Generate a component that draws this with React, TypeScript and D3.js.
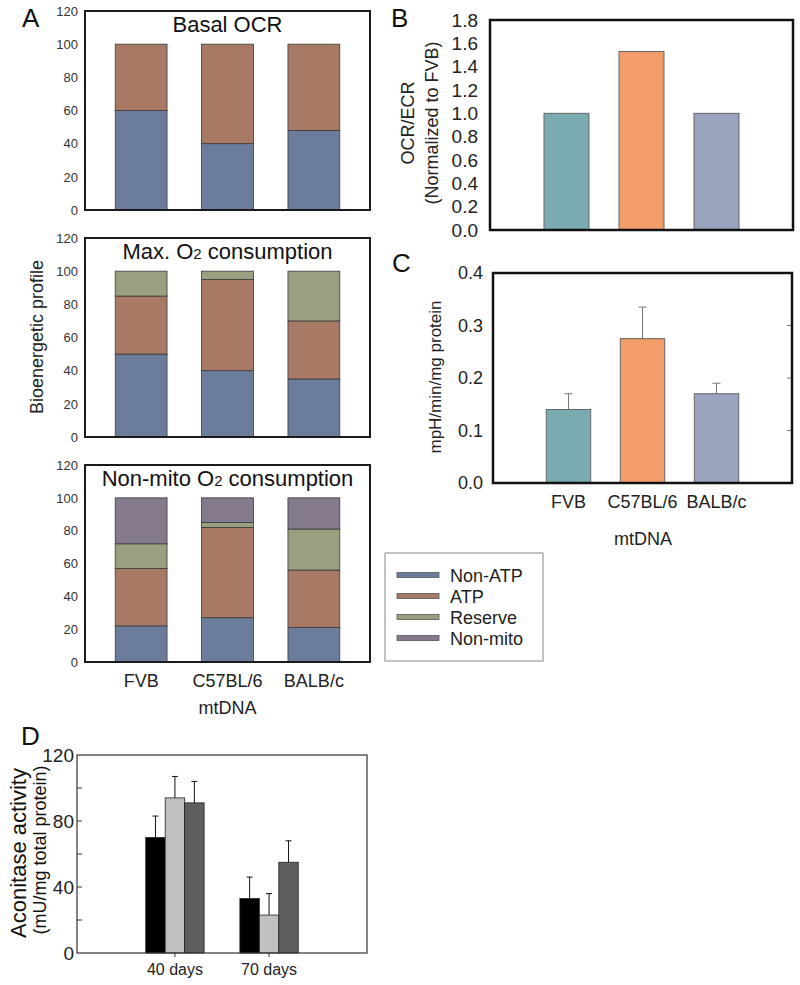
import React, { useEffect, useRef } from "react";
import * as d3 from "d3";

const strains = ["FVB", "C57BL/6", "BALB/c"];
const profileKeys = ["Non-ATP", "ATP", "Reserve", "Non-mito"];
const profileColors = ["#6b7d9a", "#a87a66", "#9aa07f", "#857a8d"];

// panel A, % of profile per strain
const basalNonATP = [60, 40, 48];
const basalATP = [40, 60, 52];
const maxNonATP = [50, 40, 35];
const maxATP = [35, 55, 35];
const maxReserve = [15, 5, 30];
const nmNonATP = [22, 27, 21];
const nmATP = [35, 55, 35];
const nmReserve = [15, 3, 25];
const nmNonMito = [28, 15, 19];
const profileTicks = [0, 20, 40, 60, 80, 100, 120];

// panel B
const ocrEcr = [1.0, 1.53, 1.0];
const ocrTicks = [0, 0.2, 0.4, 0.6, 0.8, 1.0, 1.2, 1.4, 1.6, 1.8];

// panel C
const ecarMean = [0.14, 0.275, 0.17];
const ecarErr = [0.03, 0.06, 0.02];
const ecarTicks = [0, 0.1, 0.2, 0.3, 0.4];
const strainColors = ["#7aabb1", "#f39d6b", "#9ba4bf"];

// panel D
const ages = ["40 days", "70 days"];
const aconFVB = [70, 33];
const aconC57 = [94, 23];
const aconBALB = [91, 55];
const aconFVBErr = [13, 13];
const aconC57Err = [13, 13];
const aconBALBErr = [13, 13];
const aconTicks = [0, 40, 80, 120];
const aconColors = ["#000000", "#c0c0c0", "#5f5f5f"];

const FONT = "'Liberation Sans', Arial, sans-serif";

type Title = [string, boolean][];

const App = () => {
  const ref = useRef<SVGSVGElement>(null);

  useEffect(() => {
    const svg = d3.select(ref.current);
    svg.selectAll("*").remove();
    svg.attr("font-family", FONT);

    const color = d3.scaleOrdinal<string, string>().domain(profileKeys).range(profileColors);

    const drawProfile = (top: number, bottom: number, title: Title, cols: number[][], keys: string[]) => {
      const rows = strains.map((s, i) => {
        const r: any = { strain: s };
        keys.forEach((k, j) => (r[k] = cols[j][i]));
        return r;
      });
      const x = d3.scaleBand().domain(strains).range([85, 370]).paddingInner(0.4).paddingOuter(0.35);
      const y = d3.scaleLinear().domain([0, 120]).range([bottom, top]);
      const g = svg.append("g");
      const series = d3.stack().keys(keys)(rows);
      g.selectAll("g.layer")
        .data(series)
        .join("g")
        .attr("fill", (d: any) => color(d.key))
        .selectAll("rect")
        .data((d: any) => d)
        .join("rect")
        .attr("x", (d: any) => x(d.data.strain)!)
        .attr("y", (d: any) => y(d[1]))
        .attr("height", (d: any) => y(d[0]) - y(d[1]))
        .attr("width", x.bandwidth())
        .attr("stroke", "#3a3a3a")
        .attr("stroke-width", 0.8);

      const ax = g.append("g").attr("transform", "translate(85,0)")
        .call(d3.axisLeft(y).tickValues(profileTicks).tickSize(0).tickPadding(7));
      ax.select(".domain").remove();
      ax.selectAll("text").attr("font-size", 13).attr("fill", "#333").attr("font-family", FONT);

      g.append("rect").attr("x", 85).attr("y", top).attr("width", 285).attr("height", bottom - top)
        .attr("fill", "none").attr("stroke", "#1a1a1a").attr("stroke-width", 2);

      const t = g.append("text").attr("x", 227.5).attr("y", top + 21).attr("text-anchor", "middle")
        .attr("font-size", 22).attr("fill", "#111");
      title.forEach(([s, small]) => {
        t.append("tspan").text(s).attr("font-size", small ? 15 : 22);
      });
      return x;
    };

    // Panel A
    drawProfile(11, 210, [["Basal OCR", false]], [basalNonATP, basalATP], profileKeys.slice(0, 2));
    drawProfile(238, 437, [["Max. O", false], ["2", true], [" consumption", false]],
      [maxNonATP, maxATP, maxReserve], profileKeys.slice(0, 3));
    const xA = drawProfile(465, 662, [["Non-mito O", false], ["2", true], [" consumption", false]],
      [nmNonATP, nmATP, nmReserve, nmNonMito], profileKeys);

    const axA = svg.append("g").attr("transform", "translate(0,662)")
      .call(d3.axisBottom(xA).tickSize(0).tickPadding(12));
    axA.select(".domain").remove();
    axA.selectAll("text").attr("font-size", 18).attr("fill", "#222").attr("font-family", FONT);
    svg.append("text").attr("x", 227.5).attr("y", 714).attr("text-anchor", "middle")
      .attr("font-size", 18).attr("fill", "#222").text("mtDNA");
    svg.append("text").attr("transform", "translate(43,337) rotate(-90)").attr("text-anchor", "middle")
      .attr("font-size", 18).attr("fill", "#222").text("Bioenergetic profile");
    svg.append("text").attr("x", 22).attr("y", 27).attr("font-size", 26).attr("fill", "#111").text("A");

    // Legend
    const leg = svg.append("g");
    leg.append("rect").attr("x", 385).attr("y", 553).attr("width", 158).attr("height", 108)
      .attr("fill", "#fff").attr("stroke", "#888").attr("stroke-width", 1);
    profileKeys.forEach((k, i) => {
      const cy = 575 + i * 21;
      leg.append("rect").attr("x", 397).attr("y", cy - 2.5).attr("width", 42).attr("height", 5)
        .attr("fill", color(k)).attr("stroke", "#555").attr("stroke-width", 0.8);
      leg.append("text").attr("x", 450).attr("y", cy + 6.5).attr("font-size", 18).attr("fill", "#222").text(k);
    });

    // Panel B
    {
      const x = d3.scaleBand().domain(strains).range([490, 793]).paddingInner(0.4).paddingOuter(0.72);
      const y = d3.scaleLinear().domain([0, 1.8]).range([230, 20]);
      svg.append("g").selectAll("rect").data(ocrEcr).join("rect")
        .attr("x", (d, i) => x(strains[i])!).attr("y", (d) => y(d))
        .attr("width", x.bandwidth()).attr("height", (d) => y(0) - y(d))
        .attr("fill", (d, i) => strainColors[i]).attr("stroke", "#666").attr("stroke-width", 1);
      const ay = svg.append("g").attr("transform", "translate(490,0)")
        .call(d3.axisLeft(y).tickValues(ocrTicks).tickFormat(d3.format(".1f")).tickSize(0).tickPadding(12));
      ay.select(".domain").remove();
      ay.selectAll("text").attr("font-size", 19).attr("fill", "#222").attr("font-family", FONT);
      svg.append("rect").attr("x", 490).attr("y", 20).attr("width", 303).attr("height", 210)
        .attr("fill", "none").attr("stroke", "#111").attr("stroke-width", 2.5);
      svg.append("text").attr("transform", "translate(414,123) rotate(-90)").attr("text-anchor", "middle")
        .attr("font-size", 18).attr("fill", "#222").text("OCR/ECR");
      svg.append("text").attr("transform", "translate(438,123) rotate(-90)").attr("text-anchor", "middle")
        .attr("font-size", 18).attr("fill", "#222").text("(Normalized to FVB)");
      svg.append("text").attr("x", 391).attr("y", 27).attr("font-size", 26).attr("fill", "#111").text("B");
    }

    // Panel C
    {
      const x = d3.scaleBand().domain(strains).range([493, 792]).paddingInner(0.4).paddingOuter(0.72);
      const y = d3.scaleLinear().domain([0, 0.4]).range([483, 273]);
      svg.append("g").selectAll("path").data(ecarMean).join("path")
        .attr("d", (d, i) => {
          const cx = x(strains[i])! + x.bandwidth() / 2;
          const t = y(d + ecarErr[i]);
          return `M${cx},${y(d)}V${t}M${cx - 4},${t}H${cx + 4}`;
        })
        .attr("stroke", "#777").attr("stroke-width", 1).attr("fill", "none");
      svg.append("g").selectAll("rect").data(ecarMean).join("rect")
        .attr("x", (d, i) => x(strains[i])!).attr("y", (d) => y(d))
        .attr("width", x.bandwidth()).attr("height", (d) => y(0) - y(d))
        .attr("fill", (d, i) => strainColors[i]).attr("stroke", "#666").attr("stroke-width", 1);
      const ay = svg.append("g").attr("transform", "translate(493,0)")
        .call(d3.axisLeft(y).tickValues(ecarTicks).tickFormat(d3.format(".1f")).tickSize(0).tickPadding(10));
      ay.select(".domain").remove();
      ay.selectAll("text").attr("font-size", 18).attr("fill", "#222").attr("font-family", FONT);
      svg.append("g").selectAll("line").data(ecarTicks.slice(1, -1)).join("line")
        .attr("x1", 787).attr("x2", 792).attr("y1", (d) => y(d)).attr("y2", (d) => y(d))
        .attr("stroke", "#777").attr("stroke-width", 1);
      svg.append("rect").attr("x", 493).attr("y", 273).attr("width", 299).attr("height", 210)
        .attr("fill", "none").attr("stroke", "#111").attr("stroke-width", 2.5);
      const ax = svg.append("g").attr("transform", "translate(0,483)")
        .call(d3.axisBottom(x).tickSize(0).tickPadding(12));
      ax.select(".domain").remove();
      ax.selectAll("text").attr("font-size", 18).attr("fill", "#222").attr("font-family", FONT);
      svg.append("text").attr("x", 643).attr("y", 545).attr("text-anchor", "middle")
        .attr("font-size", 18).attr("fill", "#222").text("mtDNA");
      svg.append("text").attr("transform", "translate(441,377) rotate(-90)").attr("text-anchor", "middle")
        .attr("font-size", 17).attr("fill", "#222").text("mpH/min/mg protein");
      svg.append("text").attr("x", 392).attr("y", 272).attr("font-size", 26).attr("fill", "#111").text("C");
    }

    // Panel D
    {
      const series = [aconFVB, aconC57, aconBALB];
      const errs = [aconFVBErr, aconC57Err, aconBALBErr];
      const x0 = d3.scaleBand().domain(ages).range([77, 367]).paddingInner(0.38).paddingOuter(0.73);
      const x1 = d3.scaleBand().domain(strains).range([0, x0.bandwidth()]);
      const y = d3.scaleLinear().domain([0, 120]).range([953, 755]);
      const groups = svg.append("g").selectAll("g").data(ages).join("g")
        .attr("transform", (d) => `translate(${x0(d)},0)`);
      groups.selectAll("path").data((d, gi) => series.map((s, si) => ({ si, v: s[gi], e: errs[si][gi] })))
        .join("path")
        .attr("d", (d) => {
          const cx = x1(strains[d.si])! + x1.bandwidth() / 2;
          const t = y(d.v + d.e);
          return `M${cx},${y(d.v)}V${t}M${cx - 3},${t}H${cx + 3}`;
        })
        .attr("stroke", "#111").attr("stroke-width", 1).attr("fill", "none");
      groups.selectAll("rect").data((d, gi) => series.map((s, si) => ({ si, v: s[gi] })))
        .join("rect")
        .attr("x", (d) => x1(strains[d.si])!).attr("y", (d) => y(d.v))
        .attr("width", x1.bandwidth()).attr("height", (d) => y(0) - y(d.v))
        .attr("fill", (d) => aconColors[d.si]).attr("stroke", "#222").attr("stroke-width", 0.8);

      svg.append("g").selectAll("line").data(d3.range(20, 120, 20)).join("line")
        .attr("x1", 77).attr("x2", 82).attr("y1", (d) => y(d)).attr("y2", (d) => y(d))
        .attr("stroke", "#333").attr("stroke-width", 1);
      const ay = svg.append("g").attr("transform", "translate(77,0)")
        .call(d3.axisLeft(y).tickValues(aconTicks).tickSize(0).tickPadding(3));
      ay.select(".domain").remove();
      ay.selectAll("text").attr("font-size", 19).attr("fill", "#222").attr("font-family", FONT);
      svg.append("rect").attr("x", 77).attr("y", 755).attr("width", 290).attr("height", 198)
        .attr("fill", "none").attr("stroke", "#333").attr("stroke-width", 1.2);
      const ax = svg.append("g").attr("transform", "translate(0,953)")
        .call(d3.axisBottom(x0).tickSize(4).tickPadding(7));
      ax.select(".domain").remove();
      ax.selectAll("line").attr("stroke", "#333");
      ax.selectAll("text").attr("font-size", 16).attr("fill", "#222").attr("font-family", FONT);
      svg.append("text").attr("transform", "translate(26,853) rotate(-90)").attr("text-anchor", "middle")
        .attr("font-size", 22).attr("fill", "#111").text("Aconitase activity");
      svg.append("text").attr("transform", "translate(46,850) rotate(-90)").attr("text-anchor", "middle")
        .attr("font-size", 18).attr("fill", "#111").text("(mU/mg total protein)");
      svg.append("text").attr("x", 21).attr("y", 745).attr("font-size", 26).attr("fill", "#111").text("D");
    }
  }, []);

  return (
    <svg
      ref={ref}
      width={800}
      height={985}
      style={{ position: "absolute", left: 0, top: 0, background: "#fff" }}
    />
  );
};

export default App;
